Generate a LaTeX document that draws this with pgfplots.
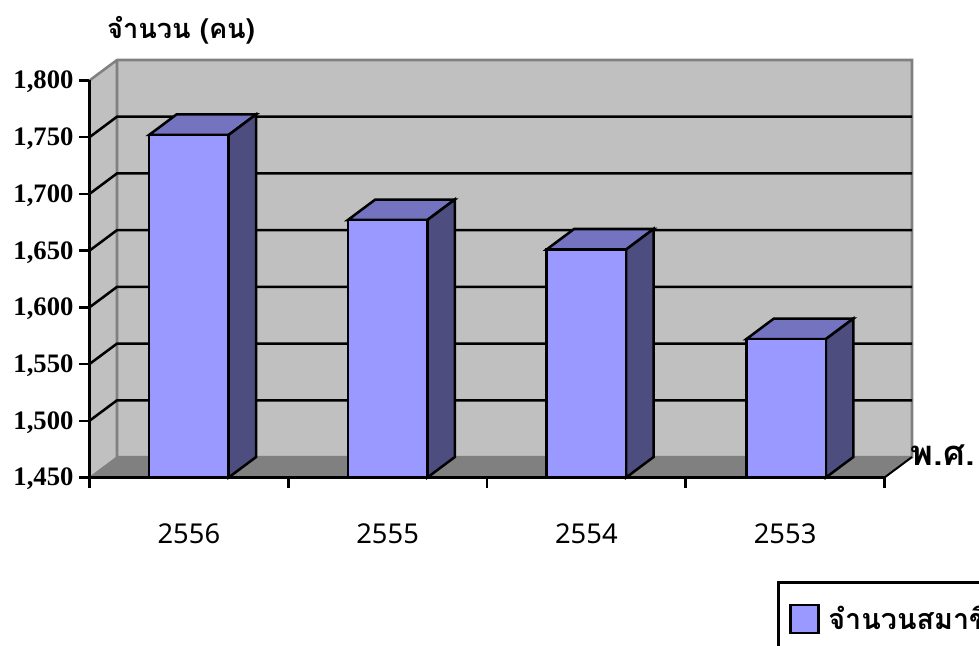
\documentclass[border=0pt]{standalone}
\usepackage{fontspec}
\usepackage{pgfplots}
\pgfplotsset{compat=1.18}
\setmainfont{Liberation Serif}
\newfontfamily\thaifont[Script=Thai]{Loma}
\newfontfamily\tickfont{Noto Sans}
\definecolor{wall}{HTML}{C0C0C0}
\definecolor{floorc}{HTML}{808080}
\definecolor{edgec}{HTML}{808080}
\definecolor{barfront}{HTML}{9999FF}
\definecolor{bartop}{HTML}{7373BF}
\definecolor{barside}{HTML}{4D4D80}
\begin{document}
\begin{tikzpicture}
\path[use as bounding box, clip] (0,0) rectangle (734.25pt,484.5pt);
\begin{axis}[
  at={(67.125pt,126.375pt)}, anchor=origin,
  scale only axis, width=616.875pt, height=313.125pt,
  xmin=0, xmax=4.1384, ymin=1450, ymax=1818.05,
  clip=false,
  axis x line=bottom, axis y line=left,
  axis line style={-,draw=none},
  xtick={0.5,1.5,2.5,3.5},
  xticklabels={2556,2555,2554,2553},
  minor xtick={0,1,2,3,4},
  ytick={1450,1500,1550,1600,1650,1700,1750,1800},
  tick align=outside,
  major tick length=7.5pt, minor tick length=8pt,
  tick style={black,line width=1.9pt},
  major x tick style={draw=none},
  xticklabel style={font=\tickfont\fontsize{20.5}{20.5}\selectfont, yshift=-23.8pt},
  yticklabel style={font=\bfseries\fontsize{20}{20}\selectfont, /pgf/number format/assume math mode=true, /pgf/number format/1000 sep={,}, xshift=-1pt, yshift=-1.2pt},
  ylabel={\thaifont\bfseries จำนวน (คน)},
  every axis y label/.style={at={(axis description cs:0.1112,1.0719)},anchor=center,font=\fontsize{20.4}{20.4}\selectfont},
  xlabel={\thaifont\bfseries พ.ศ.},
  every axis x label/.style={at={(axis description cs:1.0375,0.0539)},anchor=center,font=\fontsize{26}{26}\selectfont},
  legend style={at={(axis description cs:0.8359,-0.2479)},anchor=north west,draw=black,line width=1.9pt,
    inner xsep=8.2pt,inner ysep=16pt,font=\thaifont\bfseries\fontsize{21.5}{21.5}\selectfont,fill=white,
    nodes={inner xsep=6.5pt}},
  legend cell align=left,
]
% side wall, back wall, floor
\addplot[fill=wall,draw=none,forget plot] coordinates {(0,1450)(0.1384,1468.05)(0.1384,1818.05)(0,1800)} -- cycle;
\addplot[fill=wall,draw=none,forget plot] coordinates {(0.1384,1468.05)(4.1384,1468.05)(4.1384,1818.05)(0.1384,1818.05)} -- cycle;
\addplot[fill=floorc,draw=none,forget plot] coordinates {(0,1450)(0.1384,1468.05)(4.1384,1468.05)(4,1450)} -- cycle;
% wall edges
\addplot[edgec,line width=1.9pt,forget plot] coordinates {(0,1800)(0.1384,1818.05)(4.1384,1818.05)(4.1384,1468.05)(0.1384,1468.05)(0.1384,1818.05)};
\addplot[edgec,line width=1pt,forget plot] coordinates {(0,1450)(0.1384,1468.05)};
\addplot[black,line width=1.5pt,forget plot] coordinates {(4,1450)(4.1384,1468.05)};
% gridlines
\addplot[black,line width=1.9pt,forget plot] coordinates {(0,1500)(0.1384,1518.05)(4.1384,1518.05)};
\addplot[black,line width=1.9pt,forget plot] coordinates {(0,1550)(0.1384,1568.05)(4.1384,1568.05)};
\addplot[black,line width=1.9pt,forget plot] coordinates {(0,1600)(0.1384,1618.05)(4.1384,1618.05)};
\addplot[black,line width=1.9pt,forget plot] coordinates {(0,1650)(0.1384,1668.05)(4.1384,1668.05)};
\addplot[black,line width=1.9pt,forget plot] coordinates {(0,1700)(0.1384,1718.05)(4.1384,1718.05)};
\addplot[black,line width=1.9pt,forget plot] coordinates {(0,1750)(0.1384,1768.05)(4.1384,1768.05)};
% axis lines
\addplot[black,line width=1.9pt,forget plot] coordinates {(0,1800)(0,1450)(4,1450)};
% bar tops
\addplot[fill=bartop,draw=black,line width=1.9pt,forget plot] coordinates {(0.3,1752)(0.7,1752)(0.838,1770.05)(0.438,1770.05)} -- cycle;
\addplot[fill=bartop,draw=black,line width=1.9pt,forget plot] coordinates {(1.3,1677)(1.7,1677)(1.838,1695.05)(1.438,1695.05)} -- cycle;
\addplot[fill=bartop,draw=black,line width=1.9pt,forget plot] coordinates {(2.3,1651)(2.7,1651)(2.838,1669.05)(2.438,1669.05)} -- cycle;
\addplot[fill=bartop,draw=black,line width=1.9pt,forget plot] coordinates {(3.305,1572)(3.705,1572)(3.843,1590.05)(3.443,1590.05)} -- cycle;
% bar sides
\addplot[fill=barside,draw=black,line width=1.9pt,forget plot] coordinates {(0.7,1450)(0.838,1468.05)(0.838,1770.05)(0.7,1752)} -- cycle;
\addplot[fill=barside,draw=black,line width=1.9pt,forget plot] coordinates {(1.7,1450)(1.838,1468.05)(1.838,1695.05)(1.7,1677)} -- cycle;
\addplot[fill=barside,draw=black,line width=1.9pt,forget plot] coordinates {(2.7,1450)(2.838,1468.05)(2.838,1669.05)(2.7,1651)} -- cycle;
\addplot[fill=barside,draw=black,line width=1.9pt,forget plot] coordinates {(3.705,1450)(3.843,1468.05)(3.843,1590.05)(3.705,1572)} -- cycle;
% bar fronts
\addplot[ybar,bar width=0.4,fill=barfront,draw=black,line width=1.9pt,
  legend image code/.code={\draw[black,line width=1.9pt,fill=barfront] (0pt,-10.5pt) rectangle (21pt,10.5pt);}]
  coordinates {(0.5,1752)(1.5,1677)(2.5,1651)(3.505,1572)};
\addlegendentry{จำนวนสมาชิก}
\end{axis}
\end{tikzpicture}
\end{document}
